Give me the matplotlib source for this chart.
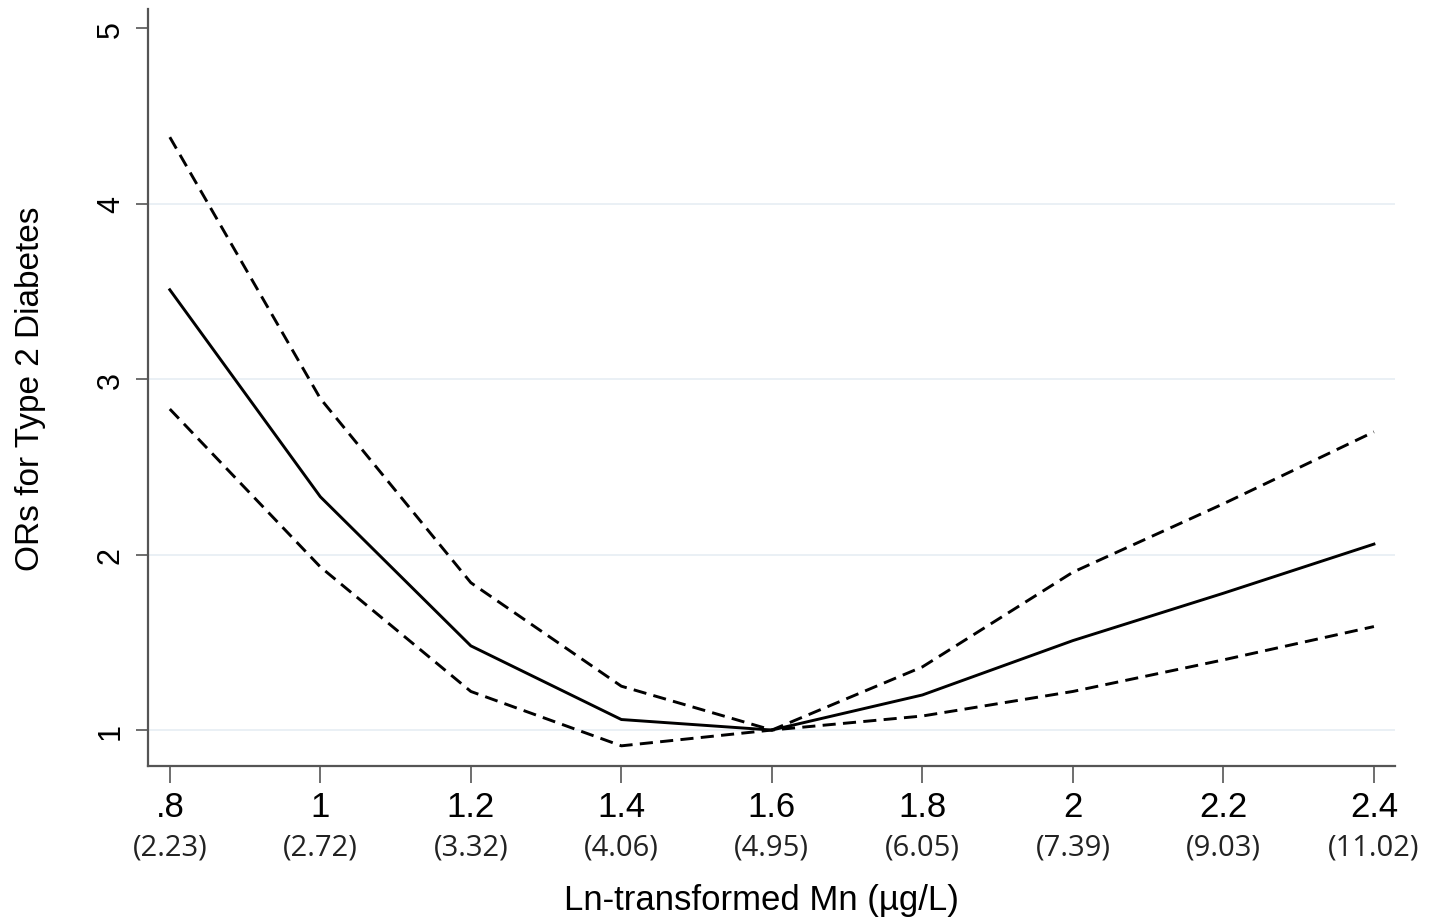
import matplotlib

matplotlib.use("Agg")
import matplotlib.pyplot as plt

# Ln-transformed Mn knots and ORs (point estimate + 95% CI)
ln_mn = [0.8, 1.0, 1.2, 1.4, 1.6, 1.8, 2.0, 2.2, 2.4]
or_est = [3.51, 2.33, 1.48, 1.06, 1.00, 1.20, 1.51, 1.78, 2.06]
or_upper = [4.38, 2.89, 1.84, 1.25, 1.00, 1.36, 1.90, 2.29, 2.70]
or_lower = [2.83, 1.93, 1.22, 0.91, 1.00, 1.08, 1.22, 1.40, 1.59]

x_ticks = [0.8, 1.0, 1.2, 1.4, 1.6, 1.8, 2.0, 2.2, 2.4]
x_ticklabels = [".8", "1", "1.2", "1.4", "1.6", "1.8", "2", "2.2", "2.4"]
x_sublabels = ["(2.23)", "(2.72)", "(3.32)", "(4.06)", "(4.95)", "(6.05)", "(7.39)", "(9.03)", "(11.02)"]
y_ticks = [1, 2, 3, 4, 5]

plt.rcParams["font.family"] = ["Liberation Sans", "DejaVu Sans"]

fig = plt.figure(figsize=(14.34, 9.2), dpi=100)
ax = fig.add_axes([0.1032, 0.1663, 0.8696, 0.8227])

for yv in y_ticks[:-1]:
    ax.axhline(yv, color="#e6eef3", linewidth=1.2, zorder=0)

dash = (0, (4.5, 2.5))
ax.plot(ln_mn, or_est, color="black", linewidth=2.1, linestyle="-", zorder=3)
ax.plot(ln_mn, or_upper, color="black", linewidth=2.1, linestyle=dash, zorder=3)
ax.plot(ln_mn, or_lower, color="black", linewidth=2.1, linestyle=dash, zorder=3)

ax.set_xlim(0.771, 2.428)
ax.set_ylim(0.795, 5.11)

ax.spines["top"].set_visible(False)
ax.spines["right"].set_visible(False)
for side in ("left", "bottom"):
    ax.spines[side].set_color("#555555")
    ax.spines[side].set_linewidth(1.6)

ax.set_yticks(y_ticks)
ax.set_yticklabels([str(v) for v in y_ticks], rotation=90, va="center", fontsize=22)
ax.tick_params(axis="y", length=9, width=1.2, color="#555555", pad=7)

ax.set_xticks(x_ticks)
ax.set_xticklabels(x_ticklabels, fontsize=25)
ax.tick_params(axis="x", length=12, width=1.2, color="#555555", pad=5)

for xv, sub in zip(x_ticks, x_sublabels):
    ax.text(xv, -0.107, sub, transform=ax.get_xaxis_transform(), ha="center", va="center",
            fontsize=21, family=["Open Sans", "DejaVu Sans"], color="#222222")

ax.set_ylabel("ORs for Type 2 Diabetes", fontsize=24, va="center")
ax.yaxis.set_label_coords(-0.094, 0.5)
ax.set_xlabel("Ln-transformed Mn (\u00b5g/L)", fontsize=25, va="center")
ax.xaxis.set_label_coords(0.492, -0.176)

fig.savefig("out.png", dpi=100, facecolor="white")
